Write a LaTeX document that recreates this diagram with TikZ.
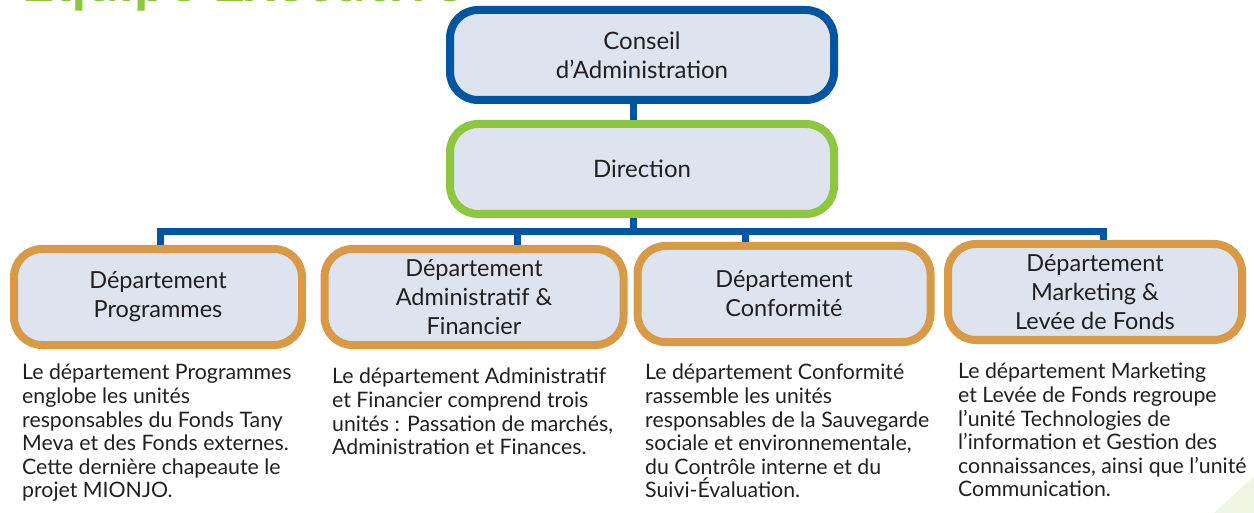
\documentclass[tikz,border=0pt]{standalone}
\usepackage{fontspec}
\setmainfont{Lato}
\usetikzlibrary{positioning}

\definecolor{boardBlue}{HTML}{0055A0}
\definecolor{leadGreen}{HTML}{8DC63F}
\definecolor{deptOrange}{HTML}{D99A48}
\definecolor{boxFill}{HTML}{DDE3EF}
\definecolor{inkGray}{HTML}{231F20}
\definecolor{paleGreen}{HTML}{EEF5E2}

\tikzset{
    unit box/.style={
        draw=#1, line width=8pt, fill=boxFill, rounded corners=28pt,
        inner sep=0pt, align=center, text=inkGray,
        font=\fontsize{23.5}{29}\selectfont},
    link/.style={draw=boardBlue, line width=7pt},
    note/.style={anchor=north west, inner sep=0pt, align=left, text=inkGray,
        font=\fontsize{21.3}{23.6}\selectfont},
}

\begin{document}
\begin{tikzpicture}[x=1pt, y=-1pt]

    \def\deptw{288}
    \def\depth{96}
    \def\busy{232}

    \useasboundingbox (0,0) rectangle (1254,513);

    \fill[paleGreen] (1214,513) -- (1254,476) -- (1254,513) -- cycle;

    \node[anchor=base west, text=leadGreen, font=\fontsize{58}{58}\selectfont\bfseries]
        (title) at (18,2) {Équipe Exécutive};

    \node[unit box=boardBlue, minimum width=384, minimum height=90,
        font=\fontsize{24}{29}\selectfont] (board) at (642,55) {Conseil\\d’Administration};
    \node[unit box=leadGreen, minimum width=384, minimum height=90,
        font=\fontsize{24}{29}\selectfont] (lead) at (642,169) {Direction};

    \node[unit box=deptOrange, minimum width=\deptw, minimum height=\depth] (prog)
        at (158,297) {Département\\Programmes};
    \node[unit box=deptOrange, minimum width=299, minimum height=\depth] (admin)
        at (474,297) {Département\\Administratif \&\\Financier};
    \node[unit box=deptOrange, minimum width=293, minimum height=\depth] (conf)
        at (784,294) {Département\\Conformité};
    \node[unit box=deptOrange, minimum width=294, minimum height=\depth] (mkt)
        at (1095,292) {Département\\Marketing \&\\Levée de Fonds};

    \coordinate (bus) at (0,\busy);

    \draw[link] ([xshift=-9pt]board.south) -- ([xshift=-9pt]lead.north);
    \draw[link] ([xshift=-9pt]lead.south) -- ([xshift=-9pt]lead.south |- bus);
    \draw[link] ([xshift=2pt]prog.north) |- ([xshift=8pt]mkt.north |- bus)
        -- ([xshift=8pt]mkt.north);
    \draw[link] ([xshift=43pt]admin.north) -- ([xshift=43pt]admin.north |- bus);
    \draw[link] ([xshift=-39pt]conf.north) -- ([xshift=-39pt]conf.north |- bus);

    \node[note] (progtext) at (22,364) {Le département Programmes\\englobe les unités\\responsables du Fonds Tany\\Meva et des Fonds externes.\\Cette dernière chapeaute le\\projet MIONJO.};
    \node[note] (admintext) at (332,368) {Le département Administratif\\et Financier comprend trois\\unités : Passation de marchés,\\Administration et Finances.};
    \node[note] (conftext) at (645,364) {Le département Conformité\\rassemble les unités\\responsables de la Sauvegarde\\sociale et environnementale,\\du Contrôle interne et du\\Suivi-Évaluation.};
    \node[note] (mkttext) at (958,363) {Le département Marketing\\et Levée de Fonds regroupe\\l’unité Technologies de\\l’information et Gestion des\\connaissances, ainsi que l’unité\\Communication.};

\end{tikzpicture}
\end{document}
